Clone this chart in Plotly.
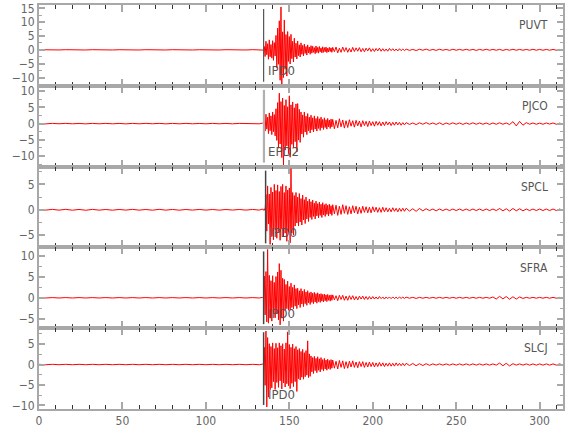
import numpy as np
import plotly.graph_objects as go
from plotly.subplots import make_subplots

stations = ["PUVT", "PJCO", "SPCL", "SFRA", "SLCJ"]
pick_labels = ["IPD0", "EPD2", "IPD0", "IPD0", "IPD0"]
pick_times = [134.6, 134.8, 135.8, 134.6, 134.6]
pick_colors = ["#555555", "#b0b0b0", "#444444", "#444444", "#444444"]
pick_widths = [1.2, 2.2, 1.5, 1.5, 1.5]
y_ranges = [[-13, 16.2], [-13.3, 11.7], [-7.4, 8.5], [-7.3, 12.1], [-10.9, 8.9]]
x_ticks = [0, 50, 100, 150, 200, 250, 300]

# time segments: (start, step) ; values below are the read peak amplitudes
seg_quiet = (0, 4)
seg_onset = (134, 0.5)
seg_coda = (176, 1)
seg_tail = (220, 2)

puvt_quiet = [0.05,-0.05,0.06,-0.04,0.05,-0.06,0.04,-0.05,0.05,-0.04,0.06,-0.05,0.04,-0.05,0.05,-0.06,0.05,
              -0.04,0.06,-0.05,0.05,-0.04,0.05,-0.06,0.04,-0.05,0.06,-0.05,0.05,-0.04,0.05,-0.05,0.06,-0.05]
puvt_onset = [0.1,-0.1, 1.2,-2.4, 3.1,-1.8, 2.2,-3.4, 3.6,-2.5, 1.9,-3.0, 3.3,-3.8, 2.6,-2.2,
              5.2,-6.5, 7.8,-5.2, 10.5,-11, 15.5,-12.5, 6.5,-10, 10.8,-7, 5.5,-9.5, 6.6,-4.2,
              4.8,-5.1, 5.6,-3.2, 3.1,-4.4, 4.2,-2.6, 2.4,-3.3, 3.2,-2.1, 1.8,-2.6, 2.5,-1.6,
              1.6,-2.2, 2.1,-1.3, 1.2,-1.9, 1.8,-1.1, 1.0,-1.6, 1.5,-1.2, 1.3,-0.9, 0.8,-1.4,
              1.4,-1.0, 0.9,-1.2, 1.2,-0.7, 0.7,-1.1, 1.1,-0.9, 0.8,-0.7, 1.0,-1.0, 0.6,-0.8,
              0.9,-0.6, 0.7,-0.9]
puvt_coda = [0.9,-0.7,1.0,-1.1,0.6,-0.9,1.0,-0.6,0.8,-0.9,0.5,-0.8,0.9,-0.6,0.7,-0.5,0.8,-0.7,
             0.5,-0.7,0.6,-0.4,0.7,-0.6,0.4,-0.6,0.5,-0.4,0.6,-0.5,0.4,-0.5,0.3,-0.5,0.5,-0.3,
             0.4,-0.4,0.3,-0.4,0.4,-0.3,0.3,-0.3]
puvt_tail = [0.25,-0.2,0.15,-0.25,0.2,-0.15,0.25,-0.2,0.15,-0.2,0.2,-0.15,0.15,-0.2,0.2,-0.15,
             0.15,-0.15,0.2,-0.15,0.15,-0.2,0.15,-0.15,0.2,-0.15,0.15,-0.15,0.15,-0.2,0.15,-0.15,
             0.2,-0.15,0.15,-0.15,0.15,-0.15,0.2,-0.15,0.15,-0.15,0.15,-0.15,0.15,-0.15,0.15,-0.15]

pjco_quiet = [0.06,-0.08,0.07,-0.05,0.08,-0.06,0.05,-0.08,0.07,-0.06,0.08,-0.07,0.06,-0.08,0.07,-0.06,0.08,
              -0.05,0.07,-0.08,0.06,-0.07,0.08,-0.06,0.05,-0.07,0.08,-0.06,0.06,-0.07,0.07,-0.05,0.06,-0.06]
pjco_onset = [0.15,-0.1, 1.2,-2.3, 2.9,-1.7, 2.0,-3.1, 3.3,-2.2, 2.4,-3.4, 3.6,-2.5, 2.8,-3.8,
              4.6,-5.2, 6.5,-7.6, 9.4,-6.3, 6.8,-10.5, 7.9,-13, 5.6,-8.2, 7.4,-6.9, 5.2,-9.3,
              8.6,-10.4, 5.8,-6.4, 6.7,-7.5, 4.9,-5.6, 6.1,-8.8, 6.2,-5.1, 4.4,-5.8, 3.6,-3.2,
              2.7,-4.2, 3.6,-2.6, 2.3,-3.4, 3.1,-2.2, 2.0,-2.9, 2.6,-1.9, 1.8,-2.6, 2.4,-1.7,
              1.6,-2.3, 2.2,-1.5, 1.5,-2.1, 2.0,-1.3, 1.3,-1.8, 1.8,-1.2, 1.2,-1.7, 1.6,-1.0,
              1.1,-1.5, 1.4,-1.0]
pjco_coda = [1.3,-1.6,1.0,-1.3,1.5,-1.0,1.1,-1.4,0.9,-1.2,1.2,-0.8,0.9,-1.1,1.0,-0.7,0.8,-1.0,
             0.9,-0.6,0.7,-0.9,0.8,-0.6,0.6,-0.8,0.7,-0.5,0.6,-0.7,0.5,-0.6,0.6,-0.4,0.5,-0.6,
             0.4,-0.5,0.5,-0.4,0.4,-0.5,0.3,-0.4]
pjco_tail = [0.3,-0.25,0.2,-0.3,0.25,-0.2,0.3,-0.2,0.2,-0.25,0.25,-0.3,0.2,-0.2,0.25,-0.2,
             0.2,-0.25,0.2,-0.2,0.25,-0.2,0.2,-0.2,0.2,-0.25,0.2,-0.2,0.25,-0.2,0.2,-0.3,
             0.6,-0.7,0.7,-0.5,0.3,-0.2,0.2,-0.2,0.15,-0.2,0.2,-0.15,0.2,-0.2,0.15,-0.15]

spcl_quiet = [0.05,-0.06,0.08,-0.07,0.09,-0.08,0.07,-0.09,0.08,-0.07,0.06,-0.08,0.07,-0.06,0.08,-0.07,0.06,
              -0.08,0.09,-0.07,0.07,-0.08,0.06,-0.06,0.07,-0.06,0.06,-0.07,0.06,-0.05,0.06,-0.06,0.07,-0.06]
spcl_onset = [0.15,-0.1, 0.2,-0.15, 3.0,-4.2, 4.7,-2.8, 3.1,-6.8, 4.4,-5.1, 3.5,-5.9, 5.0,-3.9,
              3.8,-5.6, 4.9,-4.3, 3.6,-6.0, 4.6,-3.8, 5.0,-5.2, 3.4,-4.6, 4.7,-6.2, 3.9,-4.4,
              4.3,-6.5, 8.1,-4.6, 3.4,-5.0, 2.8,-3.2, 3.4,-2.6, 2.5,-3.2, 3.2,-2.4, 2.2,-3.0,
              2.9,-2.0, 2.0,-2.7, 2.5,-1.8, 1.7,-2.3, 2.1,-1.5, 1.6,-1.9, 1.9,-1.3, 1.3,-1.8,
              1.7,-1.2, 1.2,-1.6, 1.5,-1.1, 1.1,-1.5, 1.4,-1.0, 1.0,-1.3, 1.2,-0.9, 0.9,-1.2,
              1.1,-0.8, 0.8,-1.1]
spcl_coda = [1.0,-0.8,0.9,-1.1,0.7,-0.9,1.0,-0.7,0.8,-0.9,0.6,-0.8,0.8,-0.6,0.7,-0.8,0.5,-0.7,
             0.7,-0.5,0.6,-0.6,0.5,-0.6,0.6,-0.4,0.5,-0.5,0.4,-0.5,0.5,-0.4,0.4,-0.4,0.3,-0.4,
             0.4,-0.3,0.3,-0.4,0.3,-0.3,0.3,-0.3]
spcl_tail = [0.3,-0.25,0.2,-0.3,0.25,-0.2,0.2,-0.15,0.15,-0.2,0.15,-0.15,0.15,-0.15,0.15,-0.15,
             0.15,-0.15,0.15,-0.15,0.15,-0.15,0.15,-0.15,0.15,-0.15,0.15,-0.15,0.25,-0.2,0.2,-0.25,
             0.25,-0.2,0.2,-0.2,0.15,-0.15,0.15,-0.15,0.15,-0.15,0.15,-0.15,0.15,-0.15,0.15,-0.15]

sfra_quiet = [0.05,-0.05,0.05,-0.05,0.05,-0.05,0.05,-0.05,0.05,-0.05,0.05,-0.05,0.05,-0.05,0.05,-0.05,0.05,
              -0.05,0.05,-0.05,0.05,-0.05,0.05,-0.05,0.05,-0.05,0.05,-0.05,0.05,-0.05,0.05,-0.05,0.05,-0.05]
sfra_onset = [0.1,-0.1, 5.2,-4.1, 6.3,-5.8, 11.6,-6.1, 5.4,-4.9, 4.1,-5.6, 5.3,-3.6, 3.7,-4.8,
              5.1,-3.9, 6.2,-5.3, 8.2,-6.5, 6.6,-4.9, 4.7,-5.6, 4.4,-2.9, 3.2,-2.6, 4.0,-3.0,
              2.7,-2.9, 3.5,-2.3, 2.5,-2.7, 3.1,-2.0, 2.2,-2.6, 2.3,-1.7, 1.7,-2.3, 2.2,-1.5,
              1.6,-2.1, 2.0,-1.4, 1.4,-1.8, 1.7,-1.2, 1.2,-1.6, 1.4,-1.1, 1.1,-1.4, 1.3,-1.0,
              1.0,-1.3, 1.2,-0.9, 0.9,-1.1, 1.0,-0.8, 0.8,-1.0, 0.9,-0.7, 0.7,-0.9, 0.8,-0.6,
              0.6,-0.8, 0.7,-0.6]
sfra_coda = [0.7,-0.5,0.5,-0.7,0.6,-0.4,0.6,-0.6,0.4,-0.6,0.5,-0.4,0.5,-0.5,0.3,-0.5,0.4,-0.3,
             0.4,-0.4,0.3,-0.4,0.3,-0.3,0.3,-0.3,0.2,-0.3,0.3,-0.2,0.2,-0.3,0.2,-0.2,0.2,-0.2,
             0.2,-0.2,0.15,-0.2,0.2,-0.15,0.15,-0.15]
sfra_tail = [0.15,-0.1,0.1,-0.15,0.1,-0.1,0.1,-0.1,0.1,-0.1,0.1,-0.1,0.1,-0.1,0.1,-0.1,
             0.1,-0.1,0.1,-0.1,0.1,-0.1,0.1,-0.1,0.1,-0.1,0.2,-0.3,0.35,-0.25,0.3,-0.35,
             0.25,-0.3,0.2,-0.15,0.1,-0.1,0.1,-0.1,0.1,-0.1,0.1,-0.1,0.1,-0.1,0.1,-0.1]

slcj_quiet = [0.05,-0.05,0.05,-0.05,0.05,-0.05,0.05,-0.05,0.05,-0.05,0.05,-0.05,0.05,-0.05,0.05,-0.05,0.05,
              -0.05,0.05,-0.05,0.05,-0.05,0.05,-0.05,0.05,-0.05,0.05,-0.05,0.05,-0.05,0.05,-0.05,0.05,-0.05]
slcj_onset = [0.1,-0.1, 4.2,-5.1, 8.2,-10.4, 6.6,-8.0, 5.1,-6.2, 4.4,-5.7, 5.3,-4.2, 3.9,-6.1,
              5.2,-4.4, 4.1,-5.6, 5.3,-4.0, 4.6,-6.0, 5.1,-4.5, 3.8,-5.5, 5.3,-4.7, 8.0,-5.2,
              4.9,-5.9, 4.2,-4.6, 5.0,-5.4, 3.9,-4.2, 4.4,-6.6, 3.6,-3.5, 3.9,-3.8, 3.2,-3.1,
              3.7,-3.6, 2.9,-3.0, 3.4,-2.6, 5.8,-3.2, 2.6,-2.9, 2.1,-1.8, 1.7,-2.2, 2.0,-1.5,
              1.5,-2.0, 1.9,-1.4, 1.4,-1.8, 1.7,-1.2, 1.2,-1.6, 1.5,-1.1, 1.1,-1.4, 1.3,-1.0,
              1.0,-1.2, 1.2,-0.9]
slcj_coda = [1.1,-0.9,0.8,-1.1,1.0,-0.7,0.9,-1.0,0.7,-0.9,0.8,-0.6,0.9,-0.7,0.6,-0.8,0.7,-0.5,
             0.7,-0.7,0.5,-0.6,0.6,-0.5,0.5,-0.6,0.4,-0.5,0.5,-0.4,0.4,-0.5,0.3,-0.4,0.4,-0.4,
             0.3,-0.4,0.4,-0.3,0.3,-0.3,0.3,-0.3]
slcj_tail = [0.3,-0.25,0.25,-0.3,0.2,-0.25,0.2,-0.2,0.15,-0.15,0.15,-0.15,0.15,-0.15,0.15,-0.15,
             0.15,-0.15,0.15,-0.15,0.15,-0.15,0.15,-0.15,0.15,-0.15,0.15,-0.15,0.35,-0.3,0.3,-0.35,
             0.2,-0.15,0.15,-0.15,0.15,-0.15,0.15,-0.15,0.15,-0.15,0.15,-0.15,0.15,-0.15,0.15,-0.15]

series = {
    "PUVT": [puvt_quiet, puvt_onset, puvt_coda, puvt_tail],
    "PJCO": [pjco_quiet, pjco_onset, pjco_coda, pjco_tail],
    "SPCL": [spcl_quiet, spcl_onset, spcl_coda, spcl_tail],
    "SFRA": [sfra_quiet, sfra_onset, sfra_coda, sfra_tail],
    "SLCJ": [slcj_quiet, slcj_onset, slcj_coda, slcj_tail],
}
segments = [seg_quiet, seg_onset, seg_coda, seg_tail]


def build(parts):
    xs, ys = [], []
    for (start, step), vals in zip(segments, parts):
        xs.extend(start + step * np.arange(len(vals)))
        ys.extend(vals)
    return np.array(xs), np.array(ys)


FONT = "Liberation Sans Narrow, DejaVu Sans Condensed, Arial Narrow, sans-serif"
AXC = "#a8a8a8"

fig = make_subplots(rows=5, cols=1, shared_xaxes=True, vertical_spacing=0)

for i, st in enumerate(stations):
    r = i + 1
    x, y = build(series[st])
    fig.add_trace(go.Scatter(x=x, y=y, mode="lines",
                             line=dict(color="#ff0000", width=1),
                             showlegend=False, hoverinfo="skip"), row=r, col=1)
    sfx = "" if r == 1 else str(r)
    fig.add_shape(type="line", xref="x" + sfx, yref="y" + sfx + " domain",
                  x0=pick_times[i], x1=pick_times[i], y0=0.05, y1=0.95,
                  line=dict(color=pick_colors[i], width=pick_widths[i]), layer="above")
    fig.add_annotation(xref="x" + sfx, yref="y" + sfx + " domain",
                       x=pick_times[i] + 1.2, y=0.185, text=pick_labels[i],
                       showarrow=False, xanchor="left", yanchor="middle",
                       font=dict(family=FONT, size=13, color="#555555"))
    fig.add_annotation(xref="x" + sfx, yref="y" + sfx + " domain",
                       x=306.5, y=0.75, text=st, showarrow=False,
                       xanchor="right", yanchor="middle",
                       font=dict(family=FONT, size=12, color="#555555"))
    fig.update_yaxes(range=y_ranges[i], tick0=0, dtick=5, ticks="inside", ticklen=6,
                     tickwidth=2, tickcolor=AXC, mirror="ticks", showline=True,
                     linecolor=AXC, linewidth=2, showgrid=False, zeroline=False,
                     automargin=False,
                     minor=dict(dtick=2.5, ticks="inside", ticklen=3, tickcolor=AXC, tickwidth=1),
                     tickfont=dict(family=FONT, size=12, color="#666666"),
                     row=r, col=1)
    fig.update_xaxes(range=[0, 314], tickvals=x_ticks, ticks="inside", ticklen=7,
                     tickwidth=2, tickcolor=AXC, mirror="ticks", showline=True,
                     linecolor=AXC, linewidth=2, showgrid=False, zeroline=False,
                     automargin=False,
                     minor=dict(dtick=10, tick0=0, ticks="inside", ticklen=4,
                                tickcolor="#333333", tickwidth=1),
                     tickfont=dict(family=FONT, size=12, color="#666666"),
                     row=r, col=1)

fig.update_layout(width=580, height=440, margin=dict(l=39, r=17, t=5, b=31),
                  paper_bgcolor="white", plot_bgcolor="white", showlegend=False)

fig.write_html("out.html", config={"displayModeBar": False},
               post_script="document.body.style.margin='0';")
